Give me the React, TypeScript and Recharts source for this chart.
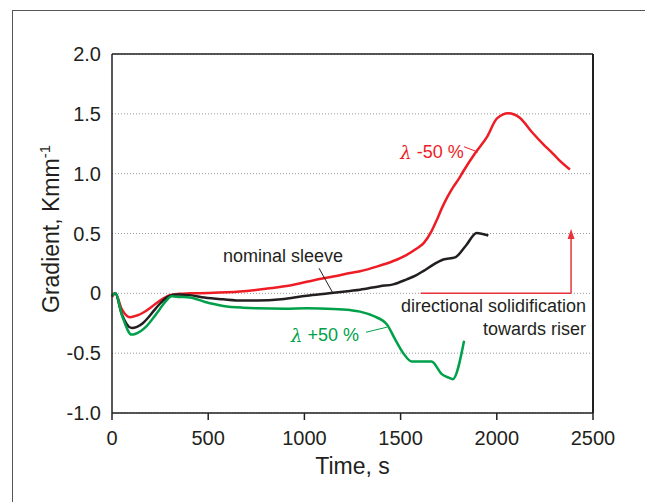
import React from 'react';
import { LineChart, Line, XAxis, YAxis, CartesianGrid, ReferenceLine, ReferenceDot } from 'recharts';

const xTicks = [0, 500, 1000, 1500, 2000, 2500];
const yTicks = [-1, -0.5, 0, 0.5, 1, 1.5, 2];
const yTickLabels: Record<string, string> = { '-1': '-1.0', '-0.5': '-0.5', '0': '0', '0.5': '0.5', '1': '1.0', '1.5': '1.5', '2': '2.0' };

const redT = [0, 17, 50, 94, 130, 163, 200, 232, 270, 301, 350, 405, 500, 665, 808, 925, 1050, 1150, 1237, 1289, 1380, 1462, 1530, 1580, 1620, 1661, 1690, 1714, 1745, 1774, 1800, 1826, 1887, 1950, 2000, 2060, 2121, 2181, 2242, 2290, 2320, 2380];
const redG = [-0.03, 0.0, -0.13, -0.2, -0.185, -0.16, -0.12, -0.08, -0.04, -0.015, -0.004, 0.0, 0.003, 0.015, 0.04, 0.065, 0.11, 0.14, 0.17, 0.185, 0.225, 0.27, 0.32, 0.37, 0.42, 0.52, 0.62, 0.71, 0.81, 0.89, 0.95, 1.02, 1.17, 1.31, 1.46, 1.505, 1.465, 1.35, 1.245, 1.17, 1.12, 1.035];

const blackT = [0, 17, 50, 102, 130, 160, 190, 220, 250, 280, 310, 340, 405, 480, 579, 680, 752, 880, 1012, 1128, 1237, 1289, 1393, 1462, 1532, 1580, 1618, 1670, 1722, 1783, 1840, 1895, 1956];
const blackG = [-0.02, 0.0, -0.17, -0.29, -0.28, -0.25, -0.2, -0.14, -0.085, -0.04, -0.015, -0.01, -0.015, -0.035, -0.05, -0.06, -0.06, -0.05, -0.02, 0.0, 0.02, 0.03, 0.06, 0.075, 0.117, 0.15, 0.186, 0.24, 0.283, 0.3, 0.4, 0.505, 0.483];

const greenT = [0, 17, 55, 102, 120, 150, 180, 215, 249, 280, 310, 350, 405, 480, 579, 680, 752, 900, 1012, 1150, 1237, 1289, 1358, 1428, 1471, 1514, 1558, 1661, 1714, 1750, 1771, 1830];
const greenG = [-0.02, 0.0, -0.2, -0.345, -0.34, -0.315, -0.275, -0.205, -0.13, -0.065, -0.025, -0.03, -0.035, -0.07, -0.105, -0.12, -0.125, -0.128, -0.125, -0.13, -0.14, -0.153, -0.189, -0.258, -0.383, -0.5, -0.57, -0.57, -0.675, -0.705, -0.717, -0.397];

const build = (ts: number[], gs: number[]) => ts.map((t, i) => ({ t, g: gs[i] }));
const redData = build(redT, redG);
const blackData = build(blackT, blackG);
const greenData = build(greenT, greenG);

const RED = '#ee1c25';
const BLACK = '#231f20';
const GREEN = '#00a04a';
const ARROW = '#e8333d';
const FONT = '"Liberation Sans", Arial, Helvetica, sans-serif';

const textShape = (content: React.ReactNode, color: string, anchor: 'start' | 'middle' | 'end') => (p: any) => (
  <text x={p.cx} y={p.cy} fill={color} fontSize={18} fontFamily={FONT} textAnchor={anchor} dominantBaseline="central">
    {content}
  </text>
);

const lambda = (rest: string) => (
  <>
    <tspan fontFamily='"DejaVu Serif", serif' fontStyle="italic">λ</tspan>
    <tspan>{rest}</tspan>
  </>
);

const arrowHead = (p: any) => (
  <path d={`M ${p.cx} ${p.cy - 2} L ${p.cx - 3.5} ${p.cy + 8} L ${p.cx + 3.5} ${p.cy + 8} Z`} fill={ARROW} />
);

export default function App() {
  return (
    <div style={{ position: 'absolute', left: 0, top: 0, width: 645, height: 502, overflow: 'hidden', background: '#fff' }}>
      <div style={{ position: 'absolute', left: 12, top: 10, width: 700, height: 600, borderLeft: '1.5px solid #555', borderTop: '1.5px solid #555' }} />
      <div style={{ position: 'absolute', left: 0, top: 0 }}>
        <LineChart width={645} height={502} margin={{ top: 54, right: 52, bottom: 44, left: 52 }}>
          <CartesianGrid vertical={false} stroke="#999" strokeDasharray="1 2" />
          <XAxis
            dataKey="t"
            type="number"
            domain={[0, 2500]}
            ticks={xTicks}
            height={45}
            tickSize={7}
            tickMargin={11}
            allowDuplicatedCategory={false}
            axisLine={{ stroke: BLACK, strokeWidth: 1.5 }}
            tickLine={{ stroke: BLACK, strokeWidth: 1.5 }}
            tick={{ fill: BLACK, fontSize: 20, fontFamily: FONT }}
            label={{
              content: (props: any) => {
                const vb = props.viewBox;
                return (
                  <text x={vb.x + vb.width / 2} y={474} textAnchor="middle" fill={BLACK} fontSize={23} fontFamily={FONT}>
                    Time, s
                  </text>
                );
              },
            }}
          />
          <YAxis
            type="number"
            domain={[-1, 2]}
            ticks={yTicks}
            width={60}
            tickSize={0}
            tickMargin={11}
            tickLine={false}
            axisLine={{ stroke: BLACK, strokeWidth: 1.5 }}
            tick={{ fill: BLACK, fontSize: 20, fontFamily: FONT }}
            tickFormatter={(v: number) => yTickLabels[String(v)] ?? String(v)}
            label={{
              content: () => (
                <text x={59} y={229} transform="rotate(-90, 59, 229)" textAnchor="middle" fill={BLACK} fontSize={23} fontFamily={FONT}>
                  Gradient, Kmm
                  <tspan fontSize={15} dy={-9}>-1</tspan>
                </text>
              ),
            }}
          />
          <ReferenceLine y={2} stroke={BLACK} strokeWidth={1.5} />
          <ReferenceLine x={2500} stroke={BLACK} strokeWidth={2} />

          <Line data={redData} dataKey="g" type="monotone" stroke={RED} strokeWidth={2.5} dot={false} isAnimationActive={false} />
          <Line data={blackData} dataKey="g" type="monotone" stroke={BLACK} strokeWidth={2.5} dot={false} isAnimationActive={false} />
          <Line data={greenData} dataKey="g" type="monotone" stroke={GREEN} strokeWidth={2.5} dot={false} isAnimationActive={false} />

          <ReferenceLine segment={[{ x: 1076, y: 0.21 }, { x: 1146, y: 0.008 }]} stroke={BLACK} strokeWidth={1} />
          <ReferenceLine segment={[{ x: 1830, y: 1.225 }, { x: 1902, y: 1.18 }]} stroke={RED} strokeWidth={1} />
          <ReferenceLine segment={[{ x: 1320, y: -0.325 }, { x: 1429, y: -0.283 }]} stroke={GREEN} strokeWidth={1} />

          <ReferenceLine segment={[{ x: 1604, y: 0 }, { x: 2386, y: 0 }]} stroke={ARROW} strokeWidth={1.5} />
          <ReferenceLine segment={[{ x: 2386, y: 0 }, { x: 2386, y: 0.46 }]} stroke={ARROW} strokeWidth={1.5} />
          <ReferenceDot x={2386} y={0.52} r={0} shape={arrowHead} />

          <ReferenceDot x={889} y={0.31} r={0} shape={textShape('nominal sleeve', BLACK, 'middle')} />
          <ReferenceDot x={1663} y={1.18} r={0} shape={textShape(lambda(' -50 %'), RED, 'middle')} />
          <ReferenceDot x={1107} y={-0.35} r={0} shape={textShape(lambda(' +50 %'), GREEN, 'middle')} />
          <ReferenceDot x={2464} y={-0.108} r={0} shape={textShape('directional solidification', BLACK, 'end')} />
          <ReferenceDot x={2464} y={-0.3} r={0} shape={textShape('towards riser', BLACK, 'end')} />
        </LineChart>
      </div>
    </div>
  );
}
